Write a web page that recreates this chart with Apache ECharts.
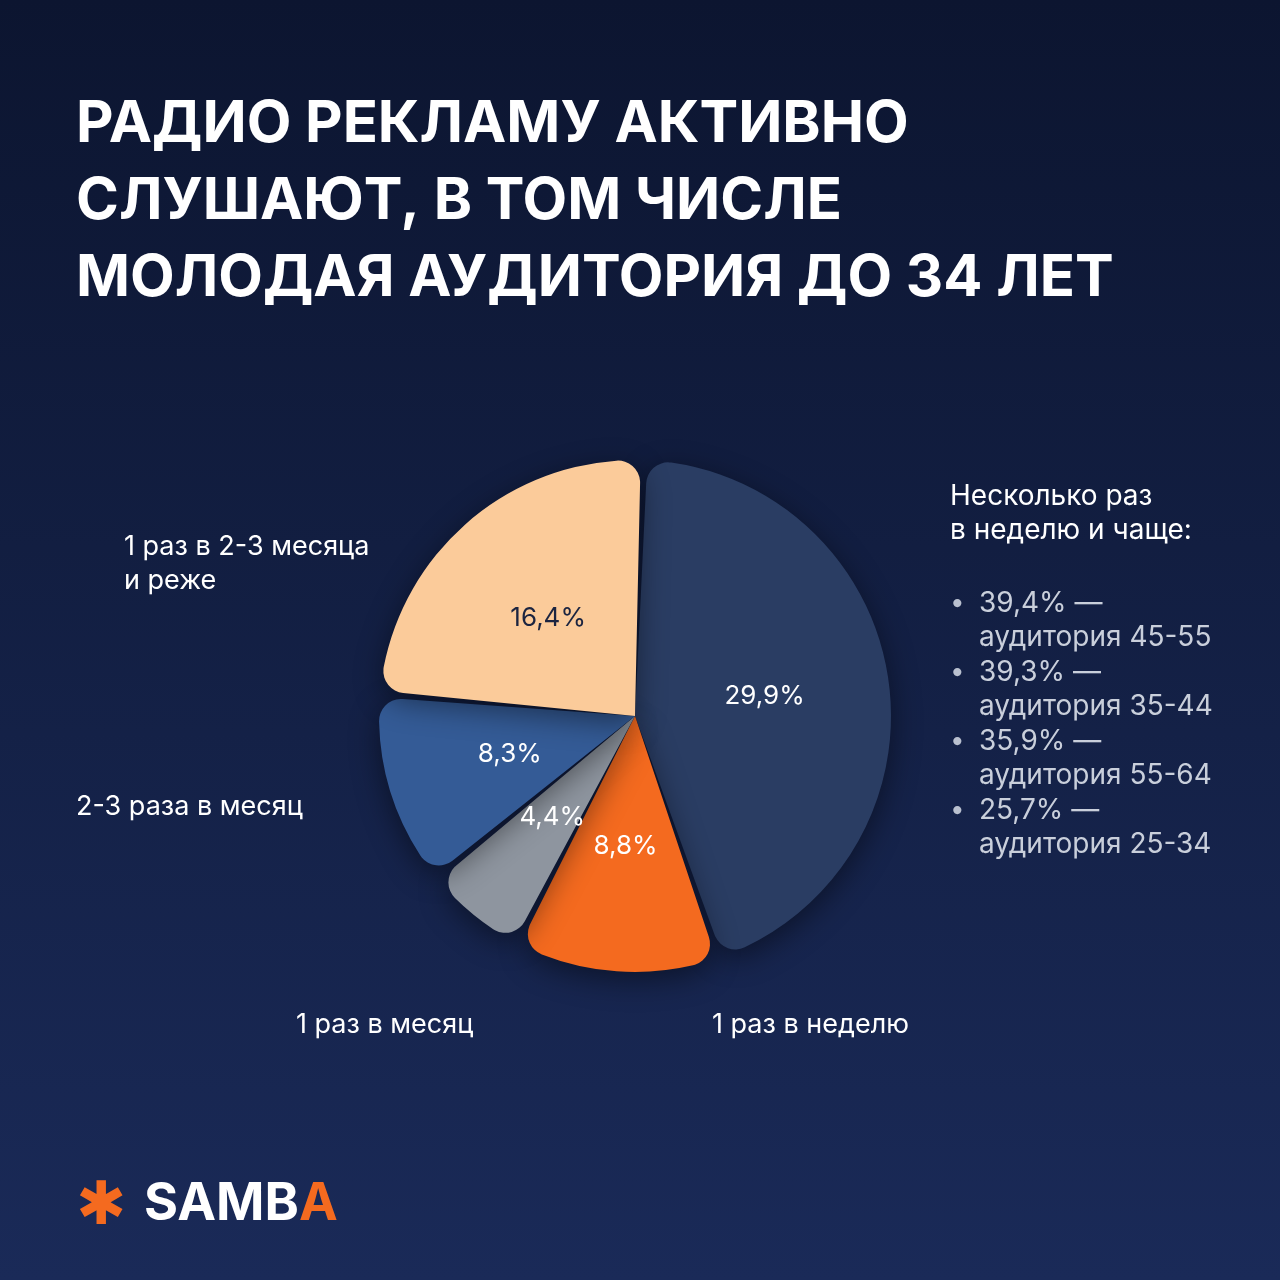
<!DOCTYPE html>
<html>
<head>
<meta charset="utf-8">
<script src="https://cdn.jsdelivr.net/npm/echarts@6/dist/echarts.min.js"></script>
<style>
html,body{margin:0;padding:0;background:#101a38;}
#chart{width:1280px;height:1280px;}
</style>
</head>
<body>
<div id="chart"></div>
<script>
// данные
var categories = ['Несколько раз в неделю и чаще', '1 раз в неделю', '1 раз в месяц', '2-3 раза в месяц', '1 раз в 2-3 месяца и реже'];
var values = [29.9, 8.8, 4.4, 8.3, 16.4];
var colors = ['#2a3d63', '#f46a1f', '#8e959f', '#345b96', '#fbcb9a'];
var labelColors = ['#ffffff', '#ffffff', '#ffffff', '#ffffff', '#1b2440'];
var outerLabels = ['', '1 раз в неделю', '1 раз в месяц', '2-3 раза в месяц', '1 раз в 2-3 месяца\nи реже'];
var outerPos = [[0, 0], [712, 1008], [296, 1008], [76, 790], [124, 530]];
var sideTitle = 'Несколько раз\nв неделю и чаще:';
var sideItems = ['39,4% —\nаудитория 45-55', '39,3% —\nаудитория 35-44', '35,9% —\nаудитория 55-64', '25,7% —\nаудитория 25-34'];

var myChart = echarts.init(document.getElementById('chart'));

var pieData = [];
for (var i = 0; i < values.length; i++) {
	pieData.push({
		name: categories[i],
		value: values[i],
		itemStyle: {color: colors[i]},
		label: {color: labelColors[i]}
	});
}

var graphics = [
	{type: 'text', left: 76, top: 86, style: {
		text: 'РАДИО РЕКЛАМУ АКТИВНО\nСЛУШАЮТ, В ТОМ ЧИСЛЕ\nМОЛОДАЯ АУДИТОРИЯ ДО 34 ЛЕТ',
		fill: '#ffffff', font: 'bold 58px Inter, "Noto Sans", sans-serif', lineHeight: 77}},
	{type: 'text', left: 950, top: 480, style: {
		text: sideTitle, fill: '#ffffff', font: '28px Inter, "Noto Sans", sans-serif', lineHeight: 34}},
	// логотип
	{type: 'text', left: 76, top: 1178, style: {text: '✱', fill: '#f46a1f', font: 'bold 60px "DejaVu Sans", sans-serif'}},
	{type: 'text', left: 144, top: 1178, style: {
		text: 'SAMB{a|A}', fill: '#ffffff', font: 'bold 52px Inter, "Noto Sans", sans-serif',
		rich: {a: {fill: '#f46a1f', font: 'bold 52px Inter, "Noto Sans", sans-serif'}}}}
];
for (var i = 0; i < sideItems.length; i++) {
	graphics.push({type: 'text', left: 950, top: 590 + i * 69, style: {
		text: '•', fill: '#b9c0cf', font: '26px Inter, "Noto Sans", sans-serif'}});
	graphics.push({type: 'text', left: 979, top: 587 + i * 69, style: {
		text: sideItems[i], fill: '#c9cfdb', font: '28px Inter, "Noto Sans", sans-serif', lineHeight: 34}});
}
for (var i = 1; i < outerLabels.length; i++) {
	graphics.push({type: 'text', left: outerPos[i][0], top: outerPos[i][1], style: {
		text: outerLabels[i], fill: '#ffffff', font: '27px Inter, "Noto Sans", sans-serif', lineHeight: 34}});
}

var option = {
	backgroundColor: {
		type: 'linear', x: 0, y: 0, x2: 0, y2: 1,
		colorStops: [{offset: 0, color: '#0c1530'}, {offset: 1, color: '#1a2a58'}]
	},
	graphic: graphics,
	series: [{
		type: 'pie',
		center: [635, 716],
		radius: [0, 256],
		startAngle: 88,
		padAngle: 1.5,
		data: pieData,
		itemStyle: {borderRadius: 22, shadowBlur: 30, shadowColor: 'rgba(0,0,0,0.45)', shadowOffsetY: 8},
		label: {
			position: 'inside',
			formatter: function (p) { return p.value.toFixed(1).replace('.', ',') + '%'; },
			fontSize: 26,
			fontFamily: 'Inter, "Noto Sans", sans-serif'
		},
		labelLine: {show: false}
	}]
};
myChart.setOption(option);
</script>
</body>
</html>
